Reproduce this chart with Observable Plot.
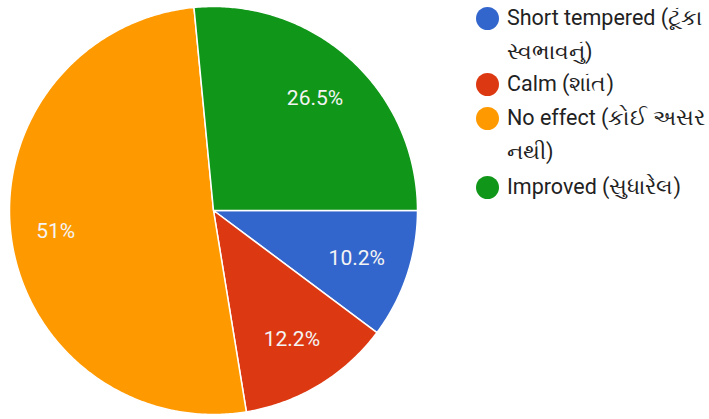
<!DOCTYPE html>
<html><head><meta charset="utf-8">
<script src="https://cdn.jsdelivr.net/npm/d3@7"></script>
<script src="https://cdn.jsdelivr.net/npm/@observablehq/plot@0.6"></script>
<style>
body{margin:0;background:#fff;overflow:hidden;width:709px;height:419px;}
#wrap{position:relative;width:709px;height:419px;overflow:hidden;}
#chart{position:absolute;left:0;top:0;}
.item{position:absolute;left:475px;font-family:Roboto,"Noto Sans",sans-serif;font-size:21.5px;color:#222;line-height:34px;white-space:nowrap;}
.dot{position:absolute;left:1px;top:6px;width:23px;height:23px;border-radius:50%;}
.txt{position:absolute;left:32px;top:0;}
</style></head>
<body><div id="wrap"><div id="chart"></div><div id="legend"></div></div>
<script>
const categories = ["Short tempered (ટૂંકા સ્વભાવનું)", "Calm (શાંત)", "No effect (કોઈ અસર નથી)", "Improved (સુધારેલ)"];
const legendLines = [["Short tempered (ટૂંકા", "સ્વભાવનું)"], ["Calm (શાંત)"], ["No effect (કોઈ અસર", "નથી)"], ["Improved (સુધારેલ)"]];
const values = [10.2, 12.2, 51, 26.5];
const labels = ["10.2%", "12.2%", "51%", "26.5%"];
const colors = ["#3366cc", "#dc3912", "#ff9900", "#109618"];

const arcs = d3.pie().sort(null).value(d => d).startAngle(Math.PI/2).endAngle(Math.PI/2 + 2*Math.PI)(values);
const pts = [];
arcs.forEach((a, i) => {
  const name = categories[i];
  pts.push({name, x: 0, y: 0});
  const n = Math.max(2, Math.ceil((a.endAngle - a.startAngle) / 0.01));
  for (let k = 0; k <= n; k++) {
    const t = a.startAngle + (a.endAngle - a.startAngle) * k / n;
    pts.push({name, x: Math.sin(t), y: Math.cos(t)});
  }
  pts.push({name, x: 0, y: 0});
});
const labelPts = arcs.map((a, i) => {
  const m = (a.startAngle + a.endAngle) / 2;
  const r = a.value > 40 ? 0.78 : 0.74;
  return {label: labels[i], x: r*Math.sin(m), y: r*Math.cos(m)};
});

const cx = 213, cy = 210, R = 204;
const chart = Plot.plot({
  width: 440, height: 419, margin: 0,
  x: {domain: [-1, 1], range: [cx - R, cx + R], axis: null},
  y: {domain: [-1, 1], range: [cy + R, cy - R], axis: null},
  color: {domain: categories, range: colors},
  style: {background: "transparent"},
  marks: [
    Plot.line(pts, {x: "x", y: "y", z: "name", fill: "name", stroke: "white", strokeWidth: 1.5, strokeLinejoin: "round"}),
    Plot.text(labelPts, {x: "x", y: "y", text: "label", fill: "#f4f4f4", fontSize: 21, fontFamily: "Roboto, sans-serif"})
  ]
});
document.getElementById("chart").appendChild(chart);

const tops = [1, 67, 101, 170];
const leg = document.getElementById("legend");
legendLines.forEach((lines, i) => {
  const d = document.createElement("div");
  d.className = "item";
  d.style.top = tops[i] + "px";
  d.innerHTML = `<div class="dot" style="background:${colors[i]}"></div><div class="txt">${lines.join("<br>")}</div>`;
  leg.appendChild(d);
});
</script></body></html>
